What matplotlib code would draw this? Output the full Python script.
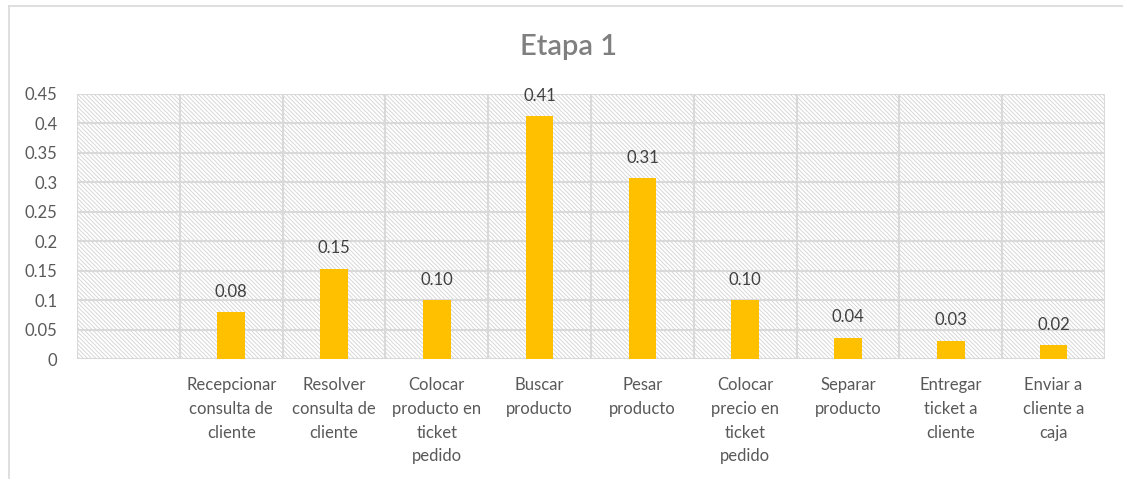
import matplotlib
matplotlib.use("Agg")
import matplotlib.pyplot as plt
from matplotlib.patches import Rectangle
from matplotlib.lines import Line2D

plt.rcParams['font.family'] = ['Lato', 'DejaVu Sans']
plt.rcParams['hatch.linewidth'] = 0.6

categories = [
    "",
    "Recepcionar\nconsulta de\ncliente",
    "Resolver\nconsulta de\ncliente",
    "Colocar\nproducto en\nticket\npedido",
    "Buscar\nproducto",
    "Pesar\nproducto",
    "Colocar\nprecio en\nticket\npedido",
    "Separar\nproducto",
    "Entregar\nticket a\ncliente",
    "Enviar a\ncliente a\ncaja",
]
values = [None, 0.079, 0.153, 0.100, 0.412, 0.307, 0.100, 0.036, 0.031, 0.023]
yticks = [0, 0.05, 0.1, 0.15, 0.2, 0.25, 0.3, 0.35, 0.4, 0.45]
ytick_labels = ["0", "0.05", "0.1", "0.15", "0.2", "0.25", "0.3", "0.35", "0.4", "0.45"]
title = "Etapa 1"

W, H = 1123, 479
fig = plt.figure(figsize=(W / 100, H / 100), dpi=100)
ax = fig.add_axes([77 / W, 1 - 359 / H, (1105 - 77) / W, (359 - 94) / H])

# hatched plot-area background
bg = Rectangle((0, 0), 1, 1, transform=ax.transAxes, facecolor='white',
               edgecolor='#d2d2d2', hatch='\\' * 8, linewidth=0, zorder=0)
ax.add_patch(bg)
ax.set_facecolor('white')

n = len(categories)
xs = list(range(n))
bar_x = [x for x, v in zip(xs, values) if v is not None]
bar_v = [v for v in values if v is not None]
bars = ax.bar(bar_x, bar_v, width=0.27, color='#ffc000', zorder=3)

for x, v in zip(bar_x, bar_v):
    ax.annotate(f"{v:.2f}", (x, v), xytext=(0, 9), textcoords='offset points',
                ha='center', va='bottom', fontsize=12, color='#404040', zorder=4)

ax.set_xlim(-0.5, n - 0.5)
ax.set_ylim(0, 0.45)
ax.set_yticks(yticks)
ax.set_yticklabels(ytick_labels)
ax.set_xticks(xs)
ax.set_xticklabels(categories, linespacing=1.6)

# grid: horizontal at ticks, vertical at category boundaries
for y in yticks:
    ax.axhline(y, color='#d9d9d9', linewidth=1.5, zorder=1)
for b in range(n + 1):
    ax.axvline(b - 0.5, color='#d9d9d9', linewidth=1.5, zorder=1)

ax.tick_params(axis='both', length=0, labelsize=12, labelcolor='#595959')
ax.tick_params(axis='y', pad=14)
ax.tick_params(axis='x', pad=13)
for s in ax.spines.values():
    s.set_visible(False)

fig.text(569 / W, 1 - 47 / H, title, ha='center', va='center',
         fontsize=21, color='#7f7f7f', fontweight='semibold')

# chart frame
fig.add_artist(Line2D([9 / W, 9 / W], [0, 1 - 6 / H], color='#d9d9d9', linewidth=1.2))
fig.add_artist(Line2D([9 / W, 1], [1 - 6 / H, 1 - 6 / H], color='#d9d9d9', linewidth=1.2))

fig.savefig('out.png', dpi=100)
